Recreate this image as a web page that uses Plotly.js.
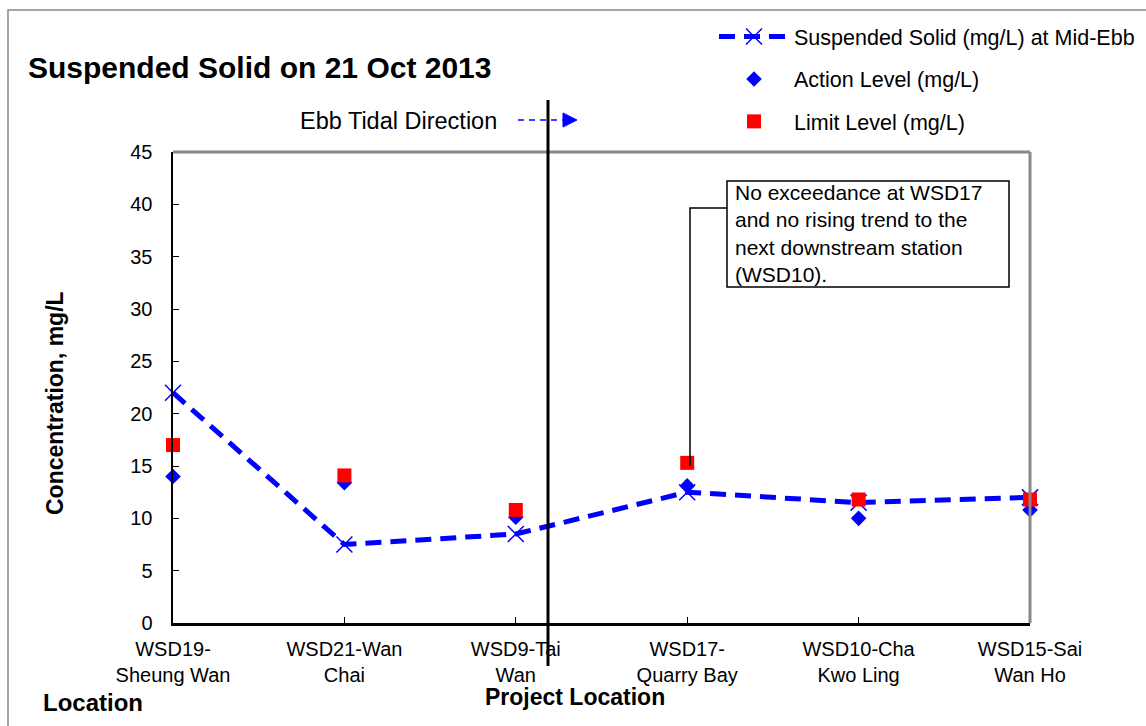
<!DOCTYPE html>
<html>
<head>
<meta charset="utf-8">
<script src="https://cdn.plot.ly/plotly-3.0.1.min.js"></script>
<style>
  html, body { margin: 0; padding: 0; background: #ffffff; }
  #chart { width: 1146px; height: 726px; }
</style>
</head>
<body>
<div id="chart"></div>
<script>
// ---- data ----
var categories = [
  'WSD19-<br>Sheung Wan',
  'WSD21-Wan<br>Chai',
  'WSD9-Tai<br>Wan',
  'WSD17-<br>Quarry Bay',
  'WSD10-Cha<br>Kwo Ling',
  'WSD15-Sai<br>Wan Ho'
];
var suspendedSolid = [22, 7.5, 8.5, 12.5, 11.5, 12];
var actionLevel = [14, 13.4, 10.1, 13.1, 10.0, 10.8];
var limitLevel = [17, 14.1, 10.8, 15.3, 11.8, 11.8];
var yTicks = [0, 5, 10, 15, 20, 25, 30, 35, 40, 45];

var seriesNames = [
  'Suspended Solid (mg/L) at Mid-Ebb',
  'Action Level (mg/L)',
  'Limit Level (mg/L)'
];

// ---- pixel helpers for decorations (plot area 173..1030 x 152..623) ----
function px(x) { return (x - 173) / 857; }
function py(y) { return (623 - y) / 471; }

var FONT = 'Liberation Sans, Arial, sans-serif';

var traces = [
  {
    x: categories, y: suspendedSolid, name: seriesNames[0],
    type: 'scatter', mode: 'lines+markers',
    line: {color: '#0000FF', width: 5, dash: '16px,9px'},
    marker: {symbol: 'x-thin-open', size: 16, color: '#0000FF', line: {width: 1.5, color: '#0000FF'}},
    legendgroup: 'a', cliponaxis: false
  },
  {
    x: categories, y: actionLevel, name: seriesNames[1],
    type: 'scatter', mode: 'markers',
    marker: {symbol: 'diamond', size: 12, color: '#0000FF'},
    legendgroup: 'b', cliponaxis: false
  },
  {
    x: categories, y: limitLevel, name: seriesNames[2],
    type: 'scatter', mode: 'markers',
    marker: {symbol: 'square', size: 14, color: '#FF0000'},
    legendgroup: 'c', cliponaxis: false
  }
];

var layout = {
  width: 1146, height: 726,
  paper_bgcolor: '#ffffff', plot_bgcolor: '#ffffff',
  font: {family: FONT, size: 20, color: '#000000'},
  margin: {l: 173, r: 116, t: 152, b: 103, autoexpand: false},
  title: {
    text: '<b>Suspended Solid on 21 Oct 2013</b>',
    x: 28 / 1146, xanchor: 'left', y: 1 - 67 / 726, yanchor: 'middle',
    font: {family: FONT, size: 30, color: '#000000'}
  },
  showlegend: true,
  legend: {
    x: px(714), xanchor: 'left', y: py(16), yanchor: 'top',
    font: {family: FONT, size: 21.5, color: '#000000'},
    bgcolor: 'rgba(0,0,0,0)', traceorder: 'grouped', tracegroupgap: 11.5,
    itemwidth: 70
  },
  xaxis: {
    type: 'category', categoryorder: 'array', categoryarray: categories,
    range: [0, 5], showgrid: false, zeroline: false,
    showline: true, linecolor: '#000000', linewidth: 2.5,
    ticks: 'inside', ticklen: 6, tickwidth: 1, tickcolor: '#000000',
    tickfont: {family: FONT, size: 20, color: '#000000'},
    ticklabelstandoff: 6
  },
  yaxis: {
    range: [0, 45], tickvals: yTicks, ticktext: yTicks.map(String),
    showgrid: false, zeroline: false,
    showline: true, linecolor: '#000000', linewidth: 2.5,
    ticks: 'inside', ticklen: 6, tickwidth: 1, tickcolor: '#000000',
    tickfont: {family: FONT, size: 20, color: '#000000'},
    ticklabelstandoff: 14
  },
  shapes: [
    // outer chart frame
    {type: 'rect', xref: 'paper', yref: 'paper', x0: px(8), y0: py(10), x1: px(1152), y1: py(732),
     line: {color: '#888888', width: 1.5}, fillcolor: 'rgba(0,0,0,0)', layer: 'below'},
    // gray top and right plot borders
    {type: 'line', xref: 'paper', yref: 'paper', x0: 0, y0: 1, x1: 1, y1: 1, line: {color: '#888888', width: 3}},
    {type: 'line', xref: 'paper', yref: 'paper', x0: 1, y0: 0, x1: 1, y1: 1, line: {color: '#888888', width: 3}},
    // vertical project divider
    {type: 'line', xref: 'paper', yref: 'paper', x0: px(548), y0: py(100), x1: px(548), y1: py(666),
     line: {color: '#000000', width: 3}},
    // ebb tidal direction arrow
    {type: 'line', xref: 'paper', yref: 'paper', x0: px(518), y0: py(120), x1: px(564), y1: py(120),
     line: {color: '#0000FF', width: 1.5, dash: '6px,5px'}},
    {type: 'path', xref: 'paper', yref: 'paper',
     path: 'M ' + px(563) + ' ' + py(113) + ' L ' + px(577) + ' ' + py(120) + ' L ' + px(563) + ' ' + py(127) + ' Z',
     fillcolor: '#0000FF', line: {color: '#0000FF', width: 1}},
    // callout box
    {type: 'rect', xref: 'paper', yref: 'paper', x0: px(727), y0: py(287), x1: px(1009), y1: py(181),
     line: {color: '#000000', width: 1.5}, fillcolor: '#ffffff'},
    // callout leader line
    {type: 'path', xref: 'paper', yref: 'paper',
     path: 'M ' + px(727) + ' ' + py(208) + ' L ' + px(690) + ' ' + py(208) + ' L ' + px(690) + ' ' + py(466),
     line: {color: '#000000', width: 1.5}}
  ],
  annotations: [
    {xref: 'paper', yref: 'paper', x: px(733), y: py(233.5), xanchor: 'left', yanchor: 'middle',
     align: 'left', showarrow: false,
     text: 'No exceedance at WSD17<br>and no rising trend to the<br>next downstream station<br>(WSD10).',
     font: {family: FONT, size: 21, color: '#000000'}},
    {xref: 'paper', yref: 'paper', x: px(499), y: py(121), xanchor: 'right', yanchor: 'middle',
     showarrow: false, text: 'Ebb Tidal Direction',
     font: {family: FONT, size: 23.5, color: '#000000'}},
    {xref: 'paper', yref: 'paper', x: px(55), y: py(403), xanchor: 'center', yanchor: 'middle',
     showarrow: false, textangle: -90, text: '<b>Concentration, mg/L</b>',
     font: {family: FONT, size: 23, color: '#000000'}},
    {xref: 'paper', yref: 'paper', x: px(575), y: py(697), xanchor: 'center', yanchor: 'middle',
     showarrow: false, text: '<b>Project Location</b>',
     font: {family: FONT, size: 23, color: '#000000'}},
    {xref: 'paper', yref: 'paper', x: px(41), y: py(702), xanchor: 'left', yanchor: 'middle',
     showarrow: false, text: '<b>Location</b>',
     font: {family: FONT, size: 24, color: '#000000'}}
  ]
};

Plotly.newPlot('chart', traces, layout, {displayModeBar: false, staticPlot: true});
</script>
</body>
</html>
